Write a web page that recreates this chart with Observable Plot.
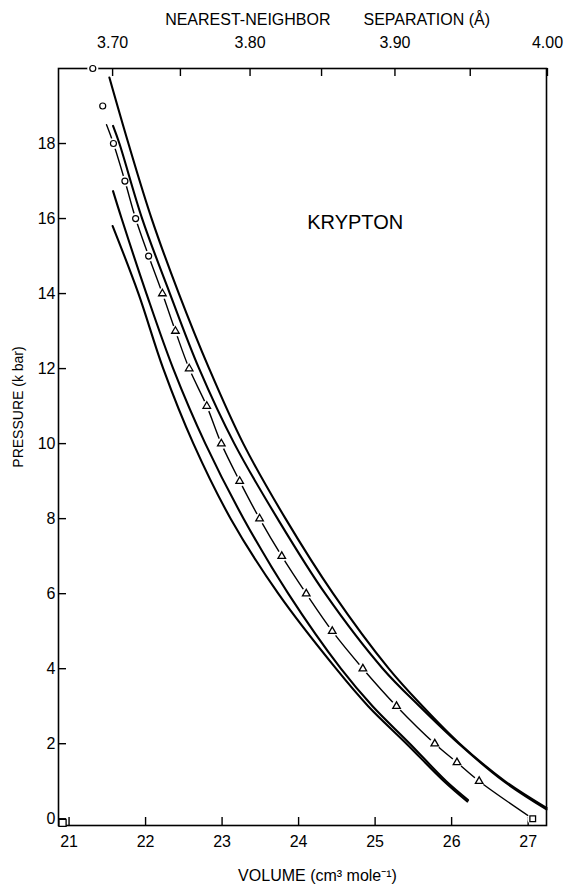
<!DOCTYPE html>
<html>
<head>
<meta charset="utf-8">
<script src="https://cdn.jsdelivr.net/npm/d3@7"></script>
<script src="https://cdn.jsdelivr.net/npm/@observablehq/plot@0.6"></script>
<style>
  html, body { margin: 0; padding: 0; background: #fff; }
  svg { display: block; }
</style>
</head>
<body>
<div id="chart"></div>
<script>
// ---- Experimental points (volume cm^3/mole, pressure kbar) ----
const circleV = [21.31, 21.44, 21.58, 21.73, 21.87, 22.04];
const circleP = [20, 19, 18, 17, 16, 15];
const triangleV = [22.22, 22.39, 22.57, 22.80, 22.99, 23.23, 23.49, 23.78, 24.10, 24.44, 24.84, 25.28, 25.78, 26.07, 26.36];
const triangleP = [14, 13, 12, 11, 10, 9, 8, 7, 6, 5, 4, 3, 2, 1.5, 1];
const squareV = [27.06];
const squareP = [0];
const cornerV = [20.915];
const cornerP = [-0.11];

// ---- Broken line drawn through the experimental points ----
const expLineV = [21.49, 21.58, 21.73, 21.87, 22.04, 22.22, 22.39, 22.57, 22.80, 22.99, 23.23, 23.49, 23.78, 24.10, 24.44, 24.84, 25.28, 25.78, 26.07, 26.36, 27.06];
const expLineP = [18.5, 18, 17, 16, 15, 14, 13, 12, 11, 10, 9, 8, 7, 6, 5, 4, 3, 2, 1.5, 1, 0];

// ---- Theoretical curves (solid) ----
const curve1V = [21.527, 21.776, 22.079, 22.435, 22.831, 23.277, 23.829, 24.452, 25.179, 25.619, 26.106, 26.699, 27.24];
const curve1P = [19.76, 18, 16, 14, 12, 10, 8, 6, 4, 3, 2, 1, 0.29];
const curve2V = [21.575, 21.658, 21.955, 22.318, 22.700, 23.160, 23.725, 24.348, 25.101, 25.580, 26.095, 26.680, 27.24];
const curve2P = [18.47, 18, 16, 14, 12, 10, 8, 6, 4, 3, 2, 1, 0.25];
const curve3V = [21.575, 21.687, 22.011, 22.361, 22.781, 23.281, 23.865, 24.553, 24.967, 25.454, 25.930, 26.215];
const curve3P = [16.73, 16, 14, 12, 10, 8, 6, 4, 3, 2, 1, 0.50];
const curve4V = [21.570, 21.907, 22.231, 22.625, 23.112, 23.735, 24.490, 24.910, 25.410, 25.900, 26.205];
const curve4P = [15.80, 14, 12, 10, 8, 6, 4, 3, 2, 1, 0.46];

// ---- Axes ----
const volumeTicks = [21, 22, 23, 24, 25, 26, 27];
const pressureTicks = [0, 2, 4, 6, 8, 10, 12, 14, 16, 18];
const sepTicks = [3.70, 3.75, 3.80, 3.85, 3.90, 3.95, 4.00];
const sepLabels = ["3.70", "", "3.80", "", "3.90", "", "4.00"];
const FCC_MOLAR = 0.42582; // N_A * d^3 / sqrt(2), d in Å -> cm^3/mole
const sepVolumes = sepTicks.map(d => FCC_MOLAR * d * d * d);

const titleLeft = "NEAREST-NEIGHBOR";
const titleRight = "SEPARATION (Å)";
const xLabel = "VOLUME (cm³ mole⁻¹)";
const yLabel = "PRESSURE (k bar)";
const element = "KRYPTON";

const toPts = (V, P) => V.map((v, i) => ({V: v, P: P[i]}));
const circles = toPts(circleV, circleP);
const triangles = toPts(triangleV, triangleP);
const squares = toPts(squareV, squareP);
const corner = toPts(cornerV, cornerP);
const expLine = toPts(expLineV, expLineP);
const curves = [toPts(curve1V, curve1P), toPts(curve2V, curve2P), toPts(curve3V, curve3P), toPts(curve4V, curve4P)];
const allExp = [...circles, ...triangles, ...squares];

const font = "'Liberation Sans', Arial, Helvetica, sans-serif";
const W = 569, H = 888, mL = 58, mR = 23, mT = 68, mB = 63;
const frameW = W - mL - mR, frameH = H - mT - mB, tick = 8;

const chart = Plot.plot({
  width: W,
  height: H,
  marginLeft: mL,
  marginRight: mR,
  marginTop: mT,
  marginBottom: mB,
  style: {fontFamily: font, fontSize: "16px", color: "black", background: "white"},
  x: {domain: [20.862, 27.24]},
  y: {domain: [-0.18, 20]},
  marks: [
    // inward ticks
    Plot.ruleX(volumeTicks, {x: d => d, insetTop: frameH - tick, stroke: "black", strokeWidth: 1.4}),
    Plot.ruleX(sepVolumes, {x: d => d, insetBottom: frameH - tick, stroke: "black", strokeWidth: 1.4}),
    Plot.ruleY(pressureTicks, {y: d => d, insetRight: frameW - tick, stroke: "black", strokeWidth: 1.4}),
    Plot.frame({stroke: "black", strokeWidth: 1.6}),
    Plot.axisX(volumeTicks, {anchor: "bottom", tickSize: 0, tickPadding: 10, fontSize: 16, label: null}),
    Plot.axisX(sepVolumes, {anchor: "top", tickSize: 0, tickPadding: 21, fontSize: 16, label: null,
      tickFormat: d => sepLabels[sepVolumes.indexOf(d)]}),
    Plot.axisY(pressureTicks, {anchor: "left", tickSize: 0, tickPadding: 3, fontSize: 16, label: null}),
    Plot.line(expLine, {x: "V", y: "P", stroke: "black", strokeWidth: 1.4, curve: "catmull-rom"}),
    Plot.dot(allExp, {x: "V", y: "P", r: 5.5, fill: "white", stroke: null}),
    ...curves.map(c => Plot.line(c, {x: "V", y: "P", stroke: "black", strokeWidth: 2.1, curve: "catmull-rom"})),
    Plot.dot(circles, {x: "V", y: "P", r: 3, fill: "white", stroke: "black", strokeWidth: 1.2}),
    Plot.dot(triangles, {x: "V", y: "P", symbol: "triangle", r: 2.8, fill: "white", stroke: "black", strokeWidth: 1.3}),
    Plot.dot(squares, {x: "V", y: "P", symbol: "square", r: 3.2, fill: "white", stroke: "black", strokeWidth: 1.3}),
    Plot.dot(corner, {x: "V", y: "P", symbol: "square", r: 4, fill: "white", stroke: "black", strokeWidth: 1.3}),
    Plot.text([element], {x: 24.74, y: 15.9, fontSize: 20, textAnchor: "middle", lineAnchor: "middle"}),
    Plot.text([titleLeft], {frameAnchor: "top-left", dx: 272, dy: -44, textAnchor: "end", lineAnchor: "bottom", fontSize: 16}),
    Plot.text([titleRight], {frameAnchor: "top-left", dx: 305, dy: -44, textAnchor: "start", lineAnchor: "bottom", fontSize: 16}),
    Plot.text([xLabel], {frameAnchor: "bottom", dx: 15, dy: 55, lineAnchor: "bottom", fontSize: 16}),
    Plot.text([yLabel], {frameAnchor: "left", dx: -40, dy: -40, rotate: -90, lineAnchor: "middle", textAnchor: "middle", fontSize: 14})
  ]
});
document.getElementById("chart").appendChild(chart);
</script>
</body>
</html>
